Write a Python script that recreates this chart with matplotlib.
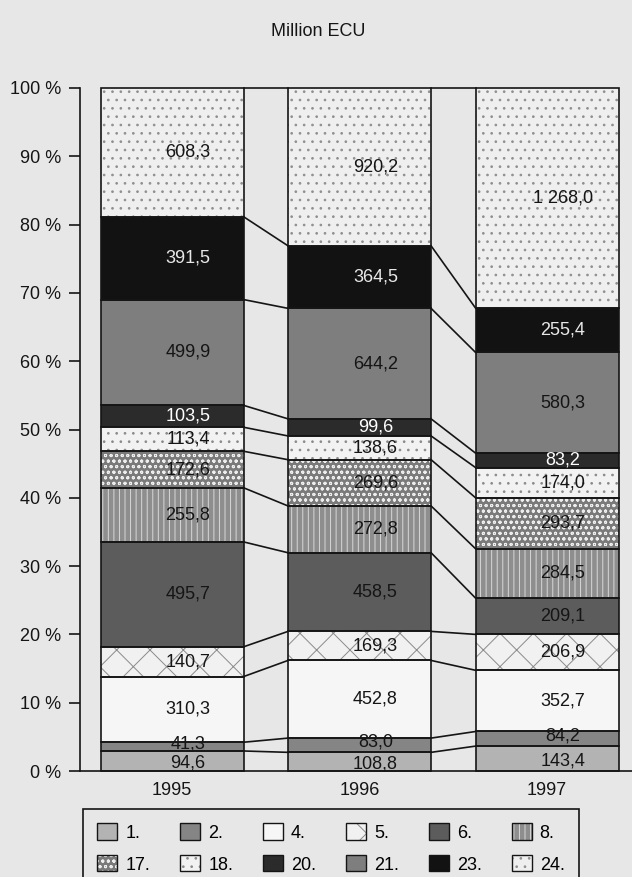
import numpy as np
import matplotlib
matplotlib.use("Agg")
import matplotlib.pyplot as plt
from matplotlib.patches import Patch
from matplotlib.legend_handler import HandlerTuple

plt.rcParams["font.family"] = ["Liberation Sans", "DejaVu Sans"]
plt.rcParams["hatch.linewidth"] = 0.7

years = ["1995", "1996", "1997"]
codes = ["1.", "2.", "4.", "5.", "6.", "8.", "17.", "18.", "20.", "21.", "23.", "24."]

# million ECU per code, bottom to top of each bar
v1995 = [94.6, 41.3, 310.3, 140.7, 495.7, 255.8, 172.6, 113.4, 103.5, 499.9, 391.5, 608.3]
v1996 = [108.8, 83.0, 452.8, 169.3, 458.5, 272.8, 269.6, 138.6, 99.6, 644.2, 364.5, 920.2]
v1997 = [143.4, 84.2, 352.7, 206.9, 209.1, 284.5, 293.7, 174.0, 83.2, 580.3, 255.4, 1268.0]

bg = "#e7e7e7"
ink = "#151515"
# face colour, hatch, hatch colour, label colour
styles = [
    ("#b3b3b3", None, ink, ink),
    ("#858585", None, ink, ink),
    ("#f6f6f6", None, ink, ink),
    ("#f1f1f1", "x", "#8a8a8a", ink),
    ("#5c5c5c", None, ink, ink),
    ("#8e8e8e", "|||", "#d8d8d8", ink),
    ("#7a7a7a", "ooo", "#eeeeee", ink),
    ("#f2f2f2", "..", "#8a8a8a", ink),
    ("#2b2b2b", None, ink, "white"),
    ("#7e7e7e", None, ink, ink),
    ("#121212", None, ink, "#e8e8e8"),
    ("#efefef", "..", "#8f8f8f", ink),
]
# small nudges so the labels of the two thin bottom segments don't collide
nudge = [-0.3, 0.4] + [0.0] * 10

data = np.array([v1995, v1996, v1997])
pct = data / data.sum(axis=1, keepdims=True) * 100
tops = np.cumsum(pct, axis=1)
bottoms = tops - pct

fig = plt.figure(figsize=(6.32, 8.77), dpi=100, facecolor=bg)
ax = fig.add_axes([80 / 632, 1 - 771 / 877, 1 - 80 / 632, (771 - 88) / 877])
ax.set_facecolor(bg)

x = np.arange(len(years))
w = 0.763

for j, (fc, hatch, hc, tc) in enumerate(styles):
    ax.bar(x, pct[:, j], w, bottom=bottoms[:, j], color=fc, hatch=hatch,
           edgecolor=hc, linewidth=0, clip_on=False, zorder=2)
    ax.bar(x, pct[:, j], w, bottom=bottoms[:, j], fill=False,
           edgecolor=ink, linewidth=1.2, clip_on=False, zorder=3)
    for i in range(len(years)):
        txt = f"{data[i, j]:,.1f}".replace(",", " ").replace(".", ",")
        ax.text(x[i] + 0.085, bottoms[i, j] + pct[i, j] / 2 + nudge[j], txt,
                ha="center", va="center", fontsize=13, color=tc, zorder=4)

# connector lines between bars
for i in range(len(years) - 1):
    for k in range(len(codes)):
        ax.plot([x[i] + w / 2, x[i + 1] - w / 2], [tops[i, k], tops[i + 1, k]],
                color=ink, linewidth=1.2, clip_on=False, zorder=3)

ax.set_xlim(-0.491, 2.453)
ax.set_ylim(0, 100)
ax.set_yticks(range(0, 101, 10))
ax.set_yticklabels([f"{t} %" for t in range(0, 101, 10)])
ax.set_xticks(x)
ax.set_xticklabels(years)
ax.tick_params(axis="y", direction="out", length=8, width=1.2, pad=5.5,
               labelsize=13, colors=ink)
ax.tick_params(axis="x", length=0, pad=8, labelsize=13, colors=ink)
for s in ["top", "right"]:
    ax.spines[s].set_visible(False)
for s in ["left", "bottom"]:
    ax.spines[s].set_linewidth(1.2)
    ax.spines[s].set_color(ink)

fig.text(318 / 632, 1 - 32 / 877, "Million ECU", ha="center", va="center",
         fontsize=13, color=ink)

handles = [(Patch(facecolor=fc, hatch=h, edgecolor=hc, linewidth=0),
            Patch(facecolor="none", edgecolor=ink, linewidth=1.0))
           for fc, h, hc, tc in styles]
order = [0, 6, 1, 7, 2, 8, 3, 9, 4, 10, 5, 11]
leg = fig.legend([handles[i] for i in order], [codes[i] for i in order],
                 handler_map={tuple: HandlerTuple(ndivide=1, pad=0)},
                 ncol=6, loc="upper left",
                 bbox_to_anchor=(83 / 632, 1 - 809 / 877, 496 / 632, 0),
                 mode="expand", borderaxespad=0, fancybox=False,
                 edgecolor=ink, facecolor=bg, framealpha=1, fontsize=13,
                 handlelength=1.1, handleheight=1.0, handletextpad=0.45,
                 labelspacing=0.75, borderpad=0.8)
leg.get_frame().set_linewidth(1.2)

fig.savefig("out.png", dpi=100, facecolor=bg)
